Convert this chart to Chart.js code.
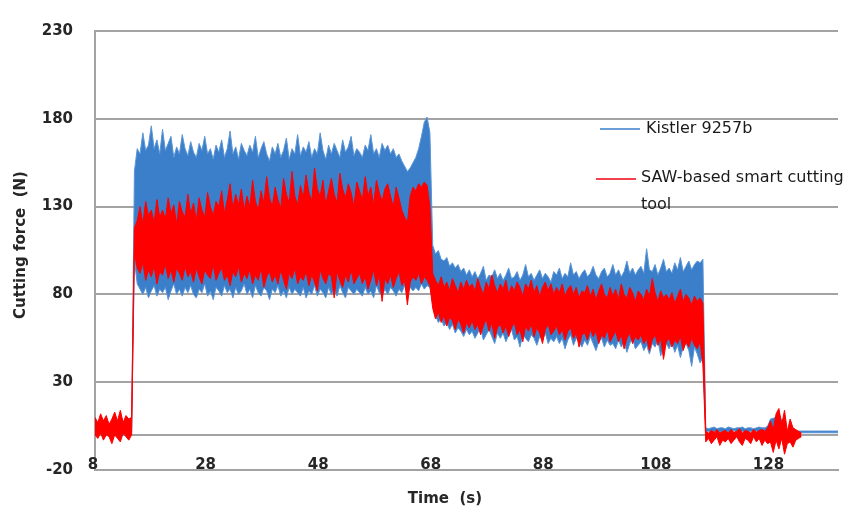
<!DOCTYPE html>
<html><head><meta charset="utf-8">
<script src="https://cdn.jsdelivr.net/npm/chart.js@4/dist/chart.umd.min.js"></script>
<style>html,body{margin:0;padding:0;background:#fff}#wrap{width:863px;height:516px;position:relative}</style>
</head><body><div id="wrap"><canvas id="c"></canvas></div>
<script>
// ---- labels ----
const xTitle = 'Time  (s)';
const yTitle = 'Cutting force  (N)';
const kistlerName = 'Kistler 9257b';
const sawName = ['SAW-based smart cutting', 'tool'];
const xTicks = [8, 28, 48, 68, 88, 108, 128];
const yTicks = [-20, 0, 30, 80, 130, 180, 230];

// ---- sample times (s): 8 .. 140, every 0.5 s ----
const time = Array.from({length: 265}, (_, i) => 8 + 0.5 * i);

// ---- Kistler 9257b: upper / lower envelope of the signal (N) ----
const kistlerUpper = [
  2,2,3,2,2,3,2,2,3,2,2,3,2,2,
  150,163,160,172,162,165,176,163,168,160,
  174,162,166,170,158,164,160,171,163,159,
  167,161,158,166,162,170,160,163,157,165,
  161,168,158,163,173,160,164,157,166,162,
  159,165,161,170,158,163,167,160,156,164,
  160,166,158,162,169,157,163,160,171,159,
  164,161,167,158,163,160,172,162,157,165,
  160,166,162,158,168,161,164,170,159,163,
  161,158,165,162,171,160,163,158,166,162,
  165,160,163,158,160,156,153,150,152,155,
  158,163,170,178,181,172,
  108,103,105,100,99,101,96,98,95,97,93,95,91,94,
  90,93,89,92,96,88,91,90,94,89,
  92,88,91,95,89,90,93,88,91,97,
  90,92,88,91,94,89,92,90,87,93,
  91,95,89,92,90,98,91,93,89,92,
  94,90,92,96,91,89,93,95,90,92,
  97,91,94,90,93,99,92,95,91,94,
  96,92,106,94,93,97,91,95,100,93,
  95,92,98,94,101,93,96,99,94,97,
  99,98,100,
  4,3.5,4,4.5,3.5,4,4,3.5,4.5,4,3.5,4,4,4.5,3.5,4,4,3.5,4,4.5,4,4,5,
  9,9.5,10,9.5,9,5,
  2.2,2.2,2.2,2.2,2.2,2.2,2.2,2.2,2.2,2.2,2.2,2.2,2.2,2.2,2.2,2.2,2.2,2.2,2.2
];
const kistlerLower = [
  0,0.5,0,1,0,0.5,0,0,1,0.5,0,0,0.5,0,
  100,86,83,80,84,78,82,85,79,83,
  81,84,77,82,86,80,83,79,84,81,
  85,80,78,83,81,86,79,82,77,84,
  82,79,85,81,83,78,84,80,82,86,
  80,83,78,85,81,79,84,82,77,83,
  81,85,79,82,78,84,80,83,81,79,
  84,78,82,80,85,79,83,81,78,84,
  80,83,79,85,81,78,84,82,80,83,
  81,79,84,80,82,78,85,81,79,83,
  80,84,82,79,83,81,85,80,84,82,
  84,82,86,83,85,84,
  75,68,64,66,62,64,60,63,58,61,59,56,60,57,
  59,55,58,61,54,57,60,56,52,58,
  55,58,53,57,60,54,56,50,57,55,
  53,57,55,51,56,54,58,52,55,53,
  56,52,55,49,54,57,51,55,53,50,
  54,51,56,52,48,53,55,50,54,51,
  52,49,54,50,53,47,52,55,49,51,
  53,48,51,46,52,50,54,45,50,52,
  49,53,47,51,44,50,52,48,39,50,
  46,41,44,
  1.5,2,1.5,2,2.5,1.5,2,2,1.5,2,2.5,2,1.5,2,2,1.5,2,2.5,2,1.5,2,2,2,
  2,2.5,2,3,2.5,2,
  1.2,1.2,1.2,1.2,1.2,1.2,1.2,1.2,1.2,1.2,1.2,1.2,1.2,1.2,1.2,1.2,1.2,1.2,1.2
];

// ---- SAW-based smart cutting tool: upper / lower envelope (N) ----
const sawUpper = [
  10,7,12,8,11,6,9,13,8,14,7,11,9,10,
  118,122,130,120,133,125,128,121,134,124,
  128,123,135,126,131,120,133,127,124,137,
  126,132,122,135,128,124,138,130,125,133,
  130,139,126,134,143,129,137,131,140,128,
  136,130,145,133,128,139,132,147,135,130,
  141,134,129,146,137,132,150,136,131,142,
  135,148,138,133,152,140,136,145,131,139,
  146,137,132,149,140,135,143,138,130,144,
  139,134,147,136,141,131,145,138,133,140,
  143,136,130,141,135,128,124,121,136,141,
  139,143,141,144,142,130,
  92,88,85,90,84,87,82,89,85,81,87,83,88,84,
  86,82,89,84,80,87,83,91,85,81,
  86,83,88,80,85,82,87,84,79,86,
  83,88,81,85,79,84,87,82,86,80,
  84,81,86,79,83,85,80,84,78,82,
  81,85,79,83,77,82,86,80,78,84,
  79,83,77,86,80,78,84,81,76,82,
  80,77,83,79,89,81,76,82,78,80,
  77,81,75,79,83,76,80,78,74,79,
  76,78,75,
  2,1,2.5,1.5,3,1,2,2.5,1,3,1.5,2,3.5,1,2.5,2,1,3,1.5,2.5,3,2,4,
  8,3,12,15,6,14,2,9,4,3,2,1,
  null,null,null,null,null,null,null,null,null,null,null,null,null
];
const sawLower = [
  0,-2,1,-3,0,-1,-5,0,-2,-4,1,-1,-3,0,
  104,95,92,98,88,94,90,96,86,93,
  91,97,89,94,87,95,92,88,96,90,
  93,87,95,90,86,94,91,89,97,88,
  92,95,88,91,85,93,90,96,87,92,
  89,94,86,91,88,95,84,90,93,87,
  91,86,94,88,83,92,89,95,86,90,
  88,93,85,91,87,82,94,89,86,92,
  90,78,93,88,84,91,87,94,86,89,
  92,86,90,83,88,94,85,91,76,89,
  86,91,84,89,93,85,88,74,87,90,
  88,92,86,90,88,85,
  72,66,70,64,68,62,67,65,60,66,63,58,64,61,
  65,60,63,57,62,66,59,64,55,61,
  63,58,62,56,61,64,57,60,53,62,
  59,63,56,61,58,52,60,63,57,59,
  62,57,60,54,59,61,55,58,50,57,
  58,54,60,56,59,52,57,55,60,53,
  56,59,53,57,49,55,58,52,56,54,
  57,52,55,48,54,57,51,55,43,53,
  55,50,54,52,56,48,53,50,55,51,
  49,53,40,
  -4,-2,-5,-3,-1,-6,-3,-4,-2,-5,-3,-1,-4,-6,-2,-3,-5,-1,-4,-2,-6,-3,-5,
  -4,-10,-3,-8,-2,-11,-5,-4,-7,-3,-2,-1,
  null,null,null,null,null,null,null,null,null,null,null,null,null
];

[kistlerUpper, kistlerLower, sawUpper, sawLower].forEach((a, k) => {
  if (a.length !== time.length) throw new Error('length mismatch ' + k + ': ' + a.length);
});

const BLUE = '#3b7ec9', BLUE_EDGE = '#5a95d6', RED = '#ff0000';
const GRID = '#a3a3a3', TXT = '#262626';
const FONT = '"DejaVu Sans", sans-serif';
const pts = arr => time.map((t, i) => ({x: t, y: arr[i]}));

const overlay = {
  id: 'overlay',
  beforeDatasetsDraw(chart) {
    const {ctx, scales: {x}} = chart;
    ctx.save();
    ctx.fillStyle = TXT;
    ctx.font = 'bold 15px ' + FONT;
    ctx.textAlign = 'center';
    ctx.textBaseline = 'alphabetic';
    xTicks.forEach(v => ctx.fillText(String(v), x.getPixelForValue(v) - 2, 469));
    ctx.fillText(xTitle, 445, 503);
    ctx.translate(21, 245);
    ctx.rotate(-Math.PI / 2);
    ctx.textBaseline = 'middle';
    ctx.fillText(yTitle, 0, 0);
    ctx.restore();
  },
  afterDraw(chart) {
    const {ctx} = chart;
    ctx.save();
    ctx.lineWidth = 2;
    ctx.strokeStyle = '#6a9fd8';
    ctx.beginPath(); ctx.moveTo(600, 129); ctx.lineTo(640, 129); ctx.stroke();
    ctx.strokeStyle = '#f2404e';
    ctx.beginPath(); ctx.moveTo(596, 179); ctx.lineTo(636, 179); ctx.stroke();
    ctx.fillStyle = '#1a1a1a';
    ctx.font = '16px ' + FONT;
    ctx.textAlign = 'left';
    ctx.textBaseline = 'middle';
    ctx.fillText(kistlerName, 646, 129);
    ctx.fillText(sawName[0], 641, 178);
    ctx.fillText(sawName[1], 641, 205);
    ctx.restore();
  }
};

new Chart(document.getElementById('c'), {
  type: 'line',
  data: {datasets: [
    {label: 'SAW lower', data: pts(sawLower), borderColor: RED, backgroundColor: RED, borderWidth: 1, pointRadius: 0, fill: false},
    {label: 'SAW upper', data: pts(sawUpper), borderColor: RED, backgroundColor: RED, borderWidth: 1, pointRadius: 0, fill: '-1'},
    {label: 'Kistler lower', data: pts(kistlerLower), borderColor: BLUE_EDGE, backgroundColor: BLUE, borderWidth: 1, pointRadius: 0, fill: false},
    {label: 'Kistler upper', data: pts(kistlerUpper), borderColor: BLUE_EDGE, backgroundColor: BLUE, borderWidth: 1, pointRadius: 0, fill: '-1'}
  ]},
  options: {
    responsive: true, maintainAspectRatio: false, animation: false, devicePixelRatio: 1,
    layout: {padding: {top: 19, right: 25, left: 0, bottom: 0}},
    plugins: {legend: {display: false}, tooltip: {enabled: false}},
    elements: {line: {tension: 0}},
    scales: {
      x: {
        type: 'linear', min: 8, max: 140,
        grid: {display: false, drawTicks: false},
        border: {display: true, color: GRID, width: 2},
        ticks: {display: false},
        afterBuildTicks(s) { s.ticks = xTicks.map(v => ({value: v})); },
        afterFit(s) { s.height = 46; }
      },
      y: {
        min: -20, max: 230,
        grid: {color: GRID, lineWidth: 2, drawTicks: false},
        border: {display: true, color: GRID, width: 2},
        ticks: {padding: 22, color: TXT, font: {family: 'DejaVu Sans', size: 15, weight: 'bold'},
                callback: v => v === 0 ? '' : String(v)},
        afterBuildTicks(s) { s.ticks = yTicks.map(v => ({value: v})); },
        afterFit(s) { s.width = 95; }
      }
    }
  },
  plugins: [overlay]
});
</script></body></html>
